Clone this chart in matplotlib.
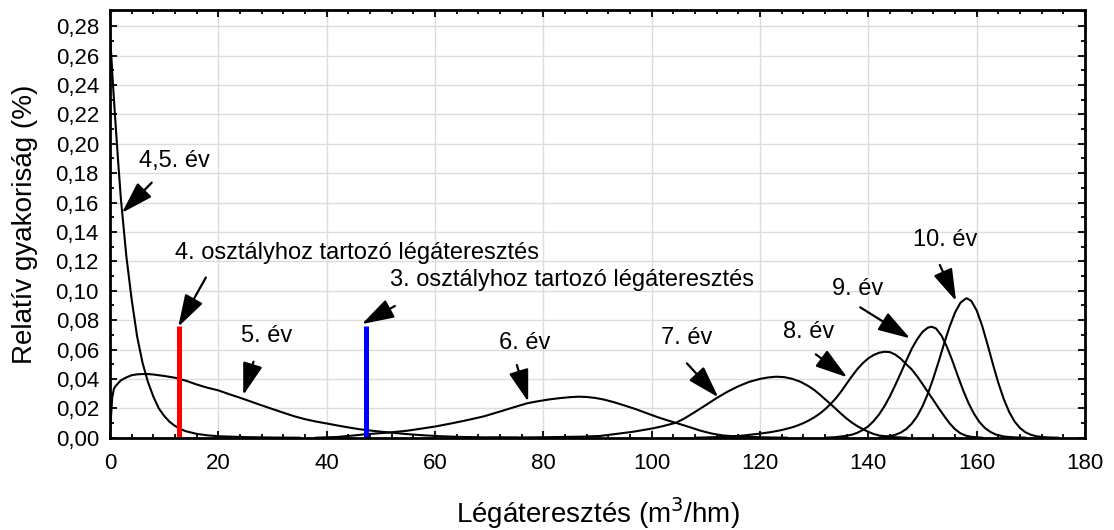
import matplotlib
matplotlib.use("Agg")
import matplotlib.pyplot as plt
from matplotlib.ticker import MultipleLocator, FuncFormatter

plt.rcParams['font.family'] = ['Liberation Sans', 'DejaVu Sans']

# ---- data ----
x_y45 = [0, 0.5, 1, 1.5, 2, 3, 4, 5, 6, 7, 8, 9, 10, 11, 12, 13, 14, 16, 18, 20, 25, 30, 35]
y_y45 = [0.275, 0.243, 0.215, 0.188, 0.163, 0.124, 0.094, 0.069, 0.051, 0.038, 0.028, 0.020,
         0.0148, 0.0108, 0.0080, 0.0059, 0.0044, 0.0026, 0.0016, 0.0010, 0.0004, 0.0001, 0.0]

x_y5 = [0, 0.2, 0.4, 0.7, 1, 1.5, 2, 3, 4, 5, 6, 7, 8, 10, 12, 14, 16, 18, 20, 22, 24, 26, 28,
        30, 32, 34, 36, 38, 40, 42, 44, 46, 48, 50, 52, 55, 58, 61, 65, 70, 75]
y_y5 = [0.0, 0.015, 0.027, 0.033, 0.035, 0.037, 0.039, 0.041, 0.0425, 0.0431, 0.0433, 0.0433,
        0.0430, 0.0420, 0.0408, 0.0388, 0.0362, 0.0340, 0.0322, 0.0296, 0.0272, 0.0246, 0.0220,
        0.0195, 0.0170, 0.0146, 0.0126, 0.0110, 0.0097, 0.0083, 0.0070, 0.0058, 0.0049, 0.0041,
        0.0034, 0.0024, 0.0016, 0.0010, 0.0005, 0.0002, 0.0]

x_y6 = [38, 42, 45, 47, 50, 52, 55, 60, 63, 66, 69, 72, 75, 77, 79, 81, 83, 85, 86.5, 88, 89.5,
        91, 93, 95, 97, 99, 101, 103, 105, 107, 109, 111, 113, 115, 117, 121, 125]
y_y6 = [0.0, 0.0005, 0.0015, 0.0023, 0.0031, 0.0037, 0.0048, 0.0076, 0.0097, 0.0120, 0.0145,
        0.0178, 0.0212, 0.0234, 0.0248, 0.0260, 0.0269, 0.0276, 0.0279, 0.0277, 0.0271, 0.0261,
        0.0242, 0.0219, 0.0195, 0.0168, 0.0141, 0.0117, 0.0095, 0.0072, 0.0048, 0.0029, 0.0016,
        0.0010, 0.0007, 0.0002, 0.0]

x_y7 = [70, 80, 87, 90.5, 96.5, 100, 102, 104.5, 106, 108, 110, 112, 114, 116, 118, 120, 121.5,
        123, 124.5, 126, 127.5, 129, 130, 131, 132, 133, 134, 135, 136, 137, 138, 139, 140, 141,
        142, 144, 147]
y_y7 = [0.0, 0.0003, 0.0007, 0.0012, 0.0040, 0.0062, 0.0078, 0.0102, 0.0130, 0.0175, 0.0222,
        0.0270, 0.0313, 0.0350, 0.0380, 0.0400, 0.0410, 0.0415, 0.0412, 0.0400, 0.0380, 0.0350,
        0.0325, 0.0295, 0.0262, 0.0230, 0.0196, 0.0162, 0.0130, 0.0102, 0.0078, 0.0058, 0.0040,
        0.0025, 0.0015, 0.0005, 0.0]

x_y8 = [108, 113, 117, 120, 122, 124, 126, 127, 128, 129, 130, 131, 132, 133, 134, 135, 136,
        137, 138, 139, 140, 141, 142, 143, 144, 145, 146, 147, 148, 149, 150, 151, 152, 153, 154,
        155, 156, 157, 158, 159, 161]
y_y8 = [0.0, 0.0005, 0.0015, 0.0028, 0.0038, 0.0052, 0.0071, 0.0084, 0.0099, 0.0117, 0.0138,
        0.0163, 0.0193, 0.0228, 0.0268, 0.0315, 0.0368, 0.0420, 0.0468, 0.0508, 0.0540, 0.0563,
        0.0578, 0.0585, 0.0582, 0.0565, 0.0537, 0.0500, 0.0465, 0.0418, 0.0365, 0.0310, 0.0256,
        0.0200, 0.0148, 0.0098, 0.0058, 0.0030, 0.0014, 0.0006, 0.0]

x_y9 = [132, 134, 136, 137, 138, 139, 140, 141, 142, 143, 144, 145, 146, 147, 148, 149, 150,
        151, 151.7, 152.5, 153.5, 154.5, 155.5, 156.5, 157.5, 158.5, 159.5, 160.5, 161.5, 162.5,
        163.5, 165, 167, 169]
y_y9 = [0.0, 0.0004, 0.0013, 0.0021, 0.0034, 0.0053, 0.0078, 0.0114, 0.0159, 0.0216, 0.0283,
        0.0360, 0.0441, 0.0524, 0.0604, 0.0669, 0.0720, 0.0749, 0.0755, 0.0743, 0.0695, 0.0619,
        0.0525, 0.0422, 0.0323, 0.0235, 0.0163, 0.0107, 0.0067, 0.0040, 0.0022, 0.0008, 0.0002,
        0.0]

x_y10 = [142, 144, 145, 146, 147, 148, 149, 150, 151, 152, 153, 154, 155, 156, 157, 158, 158.2,
         159, 160, 161, 162, 163, 164, 165, 166, 167, 168, 169, 170, 171, 172, 173, 175]
y_y10 = [0.0, 0.0012, 0.0020, 0.0035, 0.0059, 0.0095, 0.0145, 0.0214, 0.0300, 0.0405, 0.0520,
         0.0642, 0.0755, 0.0851, 0.0918, 0.0947, 0.0948, 0.0931, 0.0866, 0.0763, 0.0635, 0.0500,
         0.0373, 0.0263, 0.0175, 0.0110, 0.0066, 0.0037, 0.0020, 0.0010, 0.0005, 0.0002, 0.0]

class_x = [12.8, 47.2]          # 4. and 3. class air permeability
class_top = 0.076
class_colors = ['#ff0000', '#0000ff']

labels = ['4,5. év', '4. osztályhoz tartozó légáteresztés', '3. osztályhoz tartozó légáteresztés',
          '5. év', '6. év', '7. év', '8. év', '9. év', '10. év']
label_pos = [(11.9, 0.188, 'center'), (12.0, 0.1256, 'left'), (51.7, 0.107, 'left'),
             (29.0, 0.0692, 'center'), (76.6, 0.0641, 'center'), (106.5, 0.0676, 'center'),
             (128.9, 0.0721, 'center'), (138.1, 0.1014, 'center'), (154.1, 0.1343, 'center')]
arrow_from = [(7.7, 0.1735), (17.7, 0.109), (52.6, 0.0896), (26.5, 0.0517), (75.1, 0.0495),
              (106.5, 0.0506), (130.3, 0.0567), (138.5, 0.0887), (153.2, 0.1175)]
arrow_to = [(2.2, 0.153), (12.6, 0.0755), (46.5, 0.0773), (24.6, 0.029), (77.2, 0.0245),
            (112.3, 0.0275), (136.1, 0.0411), (147.7, 0.0676), (156.2, 0.093)]

xticks = list(range(0, 181, 20))
yticks = [i * 0.02 for i in range(15)]

# ---- figure ----
fig = plt.figure(figsize=(11.14, 5.30), dpi=100)
ax = fig.add_axes([110 / 1114, (530 - 437.7) / 530, 975 / 1114, 427.7 / 530])

ax.set_xlim(0, 180)
ax.set_ylim(0, 0.291)
ax.set_xticks(xticks)
ax.set_yticks(yticks)
ax.xaxis.set_minor_locator(MultipleLocator(4))
ax.yaxis.set_minor_locator(MultipleLocator(0.01))
ax.yaxis.set_major_formatter(FuncFormatter(lambda v, p: f"{v:.2f}".replace('.', ',')))
ax.xaxis.set_major_formatter(FuncFormatter(lambda v, p: f"{v:.0f}"))
ax.grid(True, which='major', color='#dcdcdc', lw=1.0)
ax.set_axisbelow(True)
ax.tick_params(which='both', direction='in', top=True, right=True, width=1.3, color='black')
ax.tick_params(which='major', length=5, labelsize=16)
ax.tick_params(axis='x', which='major', pad=11)
ax.tick_params(axis='y', which='major', pad=8)
ax.tick_params(which='minor', length=3)
for s in ax.spines.values():
    s.set_linewidth(2)
    s.set_zorder(5)

for xs, ys in [(x_y45, y_y45), (x_y5, y_y5), (x_y6, y_y6), (x_y7, y_y7), (x_y8, y_y8),
               (x_y9, y_y9), (x_y10, y_y10)]:
    ax.plot(xs, ys, color='black', lw=1.5, zorder=3, solid_joinstyle='round')

for cx, cc in zip(class_x, class_colors):
    ax.plot([cx, cx], [0, class_top], color=cc, lw=3.6, zorder=4, solid_capstyle='butt')

for lab, (tx, ty, ha), a0, a1 in zip(labels, label_pos, arrow_from, arrow_to):
    ax.text(tx, ty, lab, ha=ha, va='center', fontsize=17, zorder=6)
    ax.annotate('', xy=a1, xytext=a0,
                arrowprops=dict(arrowstyle='-|>,head_length=0.9,head_width=0.28',
                                mutation_scale=22, lw=1.6, color='black',
                                shrinkA=0, shrinkB=0), zorder=6)

ax.set_xlabel('Légáteresztés (m$^3$/hm)', fontsize=20)
ax.set_ylabel('Relatív gyakoriság (%)', fontsize=20)
ax.xaxis.set_label_coords(0.5, -0.135)
ax.yaxis.set_label_coords(-0.074, 0.5)

fig.savefig('out.png', dpi=100)
